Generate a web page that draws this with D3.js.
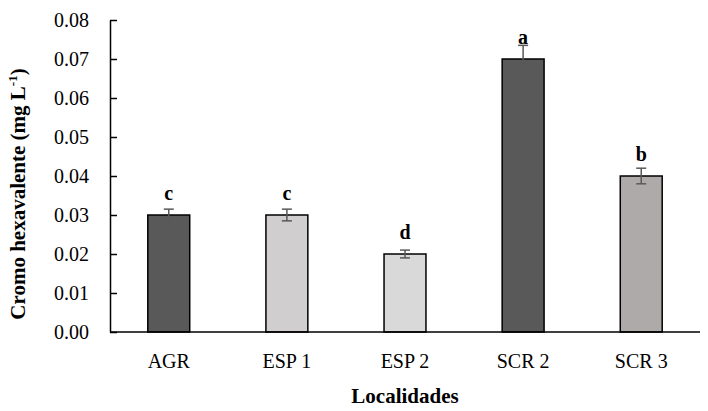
<!DOCTYPE html>
<html><head><meta charset="utf-8">
<script src="https://cdn.jsdelivr.net/npm/d3@7"></script>
<style>body{margin:0;background:#fff}svg{display:block}</style>
</head><body>
<svg id="c" width="708" height="411"></svg>
<script>
const categories = ["AGR","ESP 1","ESP 2","SCR 2","SCR 3"];
const values = [0.030,0.030,0.020,0.070,0.040];
const errors = [0.0015,0.0015,0.001,0.0035,0.002];
const letters = ["c","c","d","a","b"];
const colors = ["#595959","#d0cece","#d9d9d9","#595959","#aeaaaa"];
const yTicks = [0,0.01,0.02,0.03,0.04,0.05,0.06,0.07,0.08];

const svg = d3.select("#c");
const m = {l:110, r:8, t:20, b:79};
const W = 708, H = 411;
const x = d3.scaleBand().domain(categories).range([m.l, W-m.r]).paddingInner(0.645).paddingOuter(0.32);
const y = d3.scaleLinear().domain([0,0.08]).range([H-m.b, m.t]);
const font = "'Liberation Serif', 'DejaVu Serif', serif";

// y axis
const ya = svg.append("g").attr("transform",`translate(${m.l},0)`)
  .call(d3.axisLeft(y).tickValues(yTicks).tickFormat(d3.format(".2f")).tickSizeInner(-7).tickSizeOuter(0).tickPadding(21));
ya.select(".domain").attr("stroke","#000").attr("stroke-width",1.5);
ya.selectAll(".tick line").attr("stroke","#000").attr("stroke-width",1.5);
ya.selectAll("text").attr("font-family",font).attr("font-size",20).attr("fill","#000");

// bars
const g = svg.append("g");
g.selectAll("rect").data(categories).join("rect")
  .attr("x",d=>x(d)).attr("width",x.bandwidth())
  .attr("y",(d,i)=>y(values[i])).attr("height",(d,i)=>y(0)-y(values[i]))
  .attr("fill",(d,i)=>colors[i]).attr("stroke","#000").attr("stroke-width",1.5);

// error bars
const eb = svg.append("g").attr("stroke","#595959").attr("stroke-width",1.5);
categories.forEach((d,i)=>{
  const cx = x(d)+x.bandwidth()/2;
  const t = y(values[i]+errors[i]), b = y(values[i]-errors[i]);
  eb.append("line").attr("x1",cx).attr("x2",cx).attr("y1",t).attr("y2",b);
  eb.append("line").attr("x1",cx-5).attr("x2",cx+5).attr("y1",t).attr("y2",t);
  eb.append("line").attr("x1",cx-5).attr("x2",cx+5).attr("y1",b).attr("y2",b);
});

// x axis
const xa = svg.append("g").attr("transform",`translate(0,${y(0)})`)
  .call(d3.axisBottom(x).tickSize(0).tickPadding(22));
xa.select(".domain").attr("stroke","#000").attr("stroke-width",1.5)
  .attr("d",`M${m.l},0H${W-m.r}`);
xa.selectAll("text").attr("font-family",font).attr("font-size",20).attr("fill","#000");

// letters
svg.append("g").selectAll("text").data(categories).join("text")
  .attr("x",d=>x(d)+x.bandwidth()/2)
  .attr("y",(d,i)=>y(values[i])-15)
  .attr("text-anchor","middle").attr("font-family",font).attr("font-weight","bold")
  .attr("font-size",20).text((d,i)=>letters[i]);

// axis titles
svg.append("text").attr("x",(m.l+W-m.r)/2).attr("y",403).attr("text-anchor","middle")
  .attr("font-family",font).attr("font-weight","bold").attr("font-size",21).text("Localidades");
const yl = svg.append("text").attr("transform",`translate(25,${(m.t+H-m.b)/2+18}) rotate(-90)`)
  .attr("text-anchor","middle").attr("font-family",font).attr("font-weight","bold").attr("font-size",21);
yl.append("tspan").text("Cromo hexavalente (mg L");
yl.append("tspan").attr("dy",-8).attr("font-size",13).text("-1");
yl.append("tspan").attr("dy",8).text(")");
</script>
</body></html>
